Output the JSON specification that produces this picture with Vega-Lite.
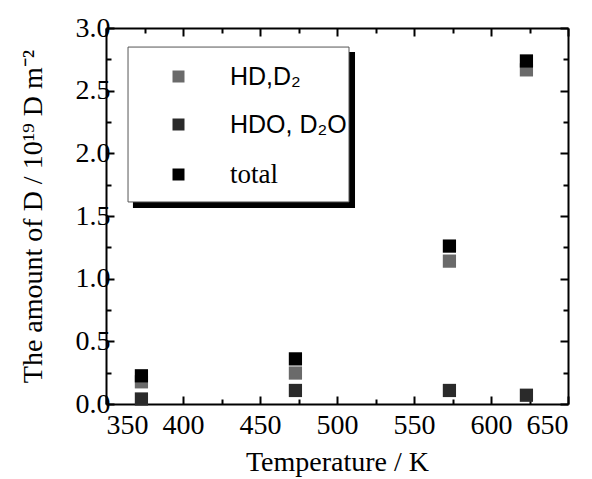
{
  "$schema": "https://vega.github.io/schema/vega-lite/v6.json",
  "width": 462,
  "height": 376,
  "autosize": "none",
  "padding": {"left": 106, "top": 28, "right": 24, "bottom": 75},
  "background": "white",
  "config": {
    "view": {"stroke": null},
    "axis": {
      "grid": false,
      "domainColor": "black",
      "domainWidth": 2,
      "tickColor": "black",
      "tickWidth": 2,
      "labelFont": "Liberation Serif",
      "labelFontSize": 28,
      "labelColor": "black",
      "titleFont": "Liberation Serif",
      "titleFontSize": 28,
      "titleFontWeight": "normal",
      "titleColor": "black"
    }
  },
  "resolve": {"axis": {"x": "independent", "y": "independent"}},
  "layer": [
    {
      "data": {"values": [{}]},
      "mark": {"type": "rect", "fill": "black"},
      "encoding": {
        "x": {"datum": 367.5, "type": "quantitative", "scale": {"domain": [350, 650], "nice": false},
              "axis": {"orient": "top", "title": null, "values": [350,375,400,425,450,475,500,525,550,575,600,625,650], "labels": false,
                       "tickSize": {"condition": {"test": "datum.value % 50 === 0", "value": -8}, "value": -5}}},
        "x2": {"datum": 511.7},
        "y": {"datum": 2.809, "type": "quantitative", "scale": {"domain": [0, 3], "nice": false},
              "axis": {"orient": "right", "title": null, "values": [0,0.25,0.5,0.75,1,1.25,1.5,1.75,2,2.25,2.5,2.75,3], "labels": false,
                       "tickSize": {"condition": {"test": "abs(datum.value*2 - round(datum.value*2)) < 0.001", "value": -8}, "value": -5}}},
        "y2": {"datum": 1.564}
      }
    },
    {
      "data": {"values": [{}]},
      "mark": {"type": "rect", "fill": "white", "stroke": "#555555", "strokeWidth": 1},
      "encoding": {
        "x": {"datum": 364.3, "type": "quantitative", "scale": {"domain": [350, 650], "nice": false}, "axis": null},
        "x2": {"datum": 507.8},
        "y": {"datum": 2.848, "type": "quantitative", "scale": {"domain": [0, 3], "nice": false}, "axis": null},
        "y2": {"datum": 1.612}
      }
    },
    {
      "data": {
        "values": [
          {"T": 373, "D": 0.177, "species": "HD,D₂"},
          {"T": 473, "D": 0.247, "species": "HD,D₂"},
          {"T": 573, "D": 1.14, "species": "HD,D₂"},
          {"T": 623, "D": 2.666, "species": "HD,D₂"},
          {"T": 373, "D": 0.04, "species": "HDO, D₂O"},
          {"T": 473, "D": 0.108, "species": "HDO, D₂O"},
          {"T": 573, "D": 0.108, "species": "HDO, D₂O"},
          {"T": 623, "D": 0.07, "species": "HDO, D₂O"},
          {"T": 373, "D": 0.225, "species": "total"},
          {"T": 473, "D": 0.36, "species": "total"},
          {"T": 573, "D": 1.26, "species": "total"},
          {"T": 623, "D": 2.737, "species": "total"}
        ]
      },
      "mark": {"type": "square", "size": 175, "opacity": 1, "filled": true},
      "encoding": {
        "x": {"field": "T", "type": "quantitative", "scale": {"domain": [350, 650], "nice": false},
              "axis": {"orient": "bottom", "title": "Temperature / K", "titlePadding": 9,
                       "values": [350,375,400,425,450,475,500,525,550,575,600,625,650],
                       "labelExpr": "datum.value % 50 === 0 ? datum.label : ''",
                       "labelPadding": 15,
                       "tickSize": {"condition": {"test": "datum.value % 50 === 0", "value": -8}, "value": -5}}},
        "y": {"field": "D", "type": "quantitative", "scale": {"domain": [0, 3], "nice": false},
              "axis": {"orient": "left", "title": "The amount of D / 10¹⁹ D m⁻²", "titlePadding": 28, "format": ".1f",
                       "values": [0,0.25,0.5,0.75,1,1.25,1.5,1.75,2,2.25,2.5,2.75,3],
                       "labelExpr": "abs(datum.value*2 - round(datum.value*2)) < 0.001 ? datum.label : ''",
                       "labelPadding": 4,
                       "tickSize": {"condition": {"test": "abs(datum.value*2 - round(datum.value*2)) < 0.001", "value": -8}, "value": -5}}},
        "color": {
          "field": "species", "type": "nominal",
          "scale": {"domain": ["HD,D₂", "HDO, D₂O", "total"], "range": ["#6a6a6a", "#2a2a2a", "#000000"]},
          "legend": {
            "title": null, "orient": "none", "legendX": 60, "legendY": 36,
            "symbolType": "square", "symbolSize": 144, "symbolStrokeWidth": 0, "symbolOpacity": 1,
            "labelFont": "Liberation Sans", "labelFontSize": 25, "labelColor": "black",
            "labelOffset": 39, "rowPadding": 22, "padding": 0,
            "labelLimit": 300,
            "encode": {
              "labels": {
                "update": {
                  "font": {"signal": "datum.label === 'total' ? 'Liberation Serif' : 'Liberation Sans'"},
                  "fontSize": {"signal": "datum.label === 'total' ? 27 : 25"}
                }
              }
            }
          }
        }
      }
    }
  ]
}
